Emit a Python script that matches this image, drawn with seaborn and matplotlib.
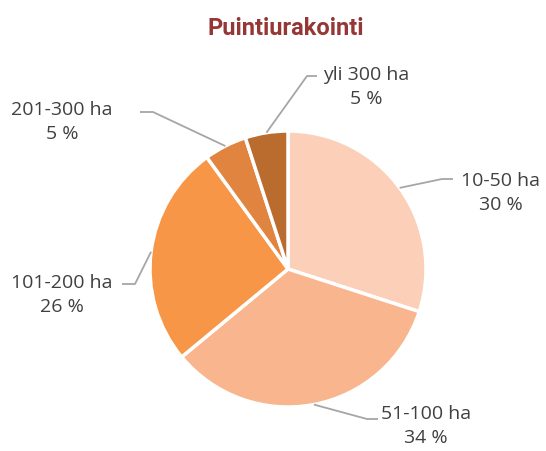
import numpy as np
import seaborn as sns
import matplotlib.pyplot as plt

# data
categories = ['10-50 ha', '51-100 ha', '101-200 ha', '201-300 ha', 'yli 300 ha']
shares = [30, 34, 26, 5, 5]
colors = ['#FBCFB8', '#F9B58E', '#F79646', '#E0843F', '#B96C2E']

sns.set_theme(style="white")
plt.rcParams['font.family'] = ['Open Sans', 'DejaVu Sans']

fig = plt.figure(figsize=(5.46, 4.52), dpi=100)
ax = fig.add_axes([0, 0, 1, 1])

R = 138.0  # pie radius in pixels
cx, cy = 288.0, 270.0


def px(x, y):
    # pixel position -> data coords (pie center 0,0, radius 1)
    return (x - cx) / R, (cy - y) / R


wedges, _ = ax.pie(shares, colors=colors, startangle=90, counterclock=False,
                   radius=1.0, center=(0, 0),
                   wedgeprops=dict(edgecolor='white', linewidth=2.5))

# label layout: elbow point, line end, text center (pixels)
layout = [
    ((442, 180), (453, 180), (501, 193)),
    ((367, 420), (378, 420), (426, 426)),
    ((135, 285), (122, 285), (62, 295)),
    ((153, 113), (140, 113), (62, 122)),
    ((307, 77), (317, 77), (366, 87)),
]

for w, cat, val, (elb, end, txt) in zip(wedges, categories, shares, layout):
    ang = np.deg2rad((w.theta1 + w.theta2) / 2)
    sx, sy = np.cos(ang), np.sin(ang)
    ex, ey = px(*elb)
    tx, ty = px(*end)
    ax.plot([sx, ex, tx], [sy, ey, ty], color='#A6A6A6', lw=1.3,
            solid_capstyle='butt', zorder=1)
    lx, ly = px(*txt)
    ax.text(lx, ly, f'{cat}\n{val} %', ha='center', va='center',
            fontsize=14, color='#404040', linespacing=1.45)

ax.text(*px(286, 28), 'Puintiurakointi', ha='center', va='center',
        fontsize=17, fontweight='bold', color='#953735',
        family=['Roboto', 'DejaVu Sans'], fontstretch='condensed')

ax.set_xlim(-cx / R, (546 - cx) / R)
ax.set_ylim((cy - 452) / R, cy / R)
ax.set_aspect('equal')
ax.axis('off')

fig.savefig('out.png', dpi=100)
